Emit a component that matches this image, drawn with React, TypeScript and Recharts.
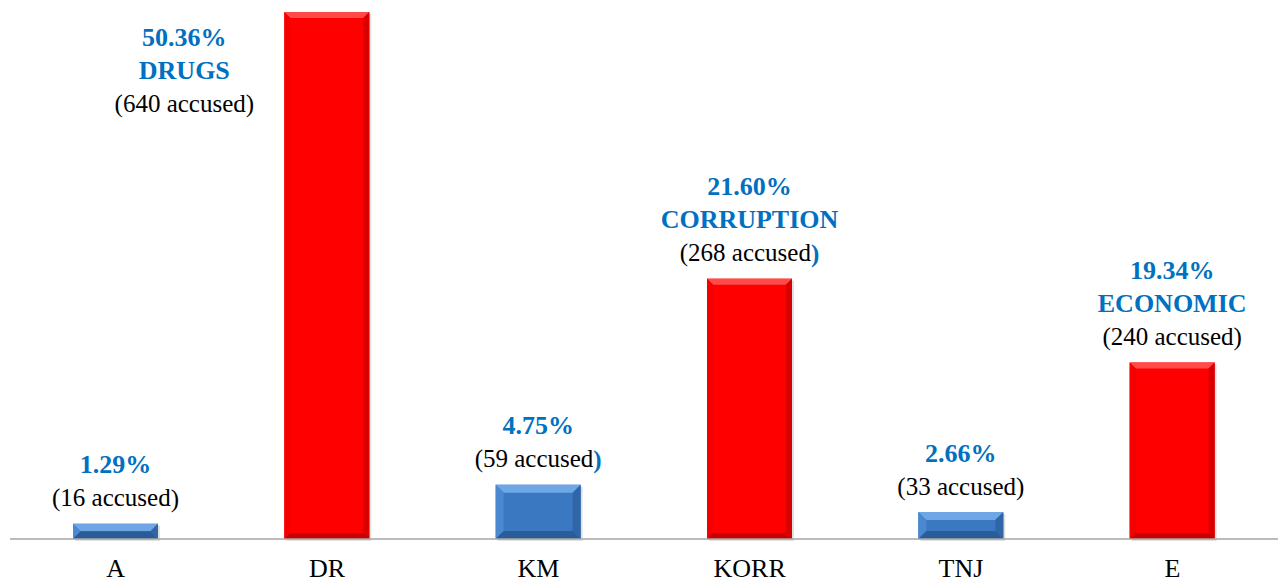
import React from 'react';
import { BarChart, Bar, XAxis, YAxis, LabelList } from 'recharts';

// categories on the x axis
const categories = ['A', 'DR', 'KM', 'KORR', 'TNJ', 'E'];
// bar heights as drawn in the source (DR = 100)
const barHeights = [2.9, 100, 10.3, 49.4, 5.1, 33.5];
// label values
const percents = [1.29, 50.36, 4.75, 21.6, 2.66, 19.34];
const accused = [16, 640, 59, 268, 33, 240];
const crimeNames = ['', 'DRUGS', '', 'CORRUPTION', '', 'ECONOMIC'];
// closing bracket printed in blue bold in the source
const blueBracket = [false, false, true, true, false, false];

const data = categories.map((c, i) => ({
  name: c,
  height: barHeights[i],
  percent: percents[i],
  accused: accused[i],
  crime: crimeNames[i],
  blueBracket: blueBracket[i],
}));

const FONT = '"Liberation Serif", "Times New Roman", serif';
const BLUE_TEXT = '#0070C0';

const BevelBar: React.FC<any> = ({ x, y, width, height, payload }) => {
  const major = !!payload.crime;
  const b = major ? 6 : 8;
  const base = major ? '#FF0000' : '#3B78C2';
  const top = major ? '#FF4A4A' : '#6FA6E6';
  const left = major ? '#F50000' : '#4C88D0';
  const right = major ? '#D80000' : '#2F66A8';
  const bottom = major ? '#C80000' : '#2A5C98';
  const bv = Math.min(b, height / 2, width / 2);
  const x2 = x + width;
  const y2 = y + height;
  return (
    <g>
      <rect x={x + 2} y={y + 2} width={width} height={height} fill="rgba(0,0,0,0.12)" />
      <rect x={x} y={y} width={width} height={height} fill={base} />
      <polygon points={`${x},${y} ${x2},${y} ${x2 - bv},${y + bv} ${x + bv},${y + bv}`} fill={top} />
      <polygon points={`${x},${y} ${x + bv},${y + bv} ${x + bv},${y2 - bv} ${x},${y2}`} fill={left} />
      <polygon points={`${x2},${y} ${x2},${y2} ${x2 - bv},${y2 - bv} ${x2 - bv},${y + bv}`} fill={right} />
      <polygon points={`${x},${y2} ${x + bv},${y2 - bv} ${x2 - bv},${y2 - bv} ${x2},${y2}`} fill={bottom} />
    </g>
  );
};

const BarLabel: React.FC<any> = ({ x, y, width, index }) => {
  const d = data[index];
  const lineH = 33;
  const lines: { text: string; blue: boolean }[] = [{ text: `${d.percent.toFixed(2)}%`, blue: true }];
  if (d.crime) lines.push({ text: d.crime, blue: true });
  lines.push({ text: `(${d.accused} accused`, blue: false });

  let cx = x + width / 2;
  let firstY = y - 26 - (lines.length - 1) * lineH;
  if (firstY < 20) {
    // no room above the bar: put the label to the left of it
    cx = x - 100;
    firstY = y + 25;
  }
  return (
    <g>
      {lines.map((ln, i) => (
        <text
          key={i}
          x={cx}
          y={firstY + i * lineH}
          textAnchor="middle"
          dominantBaseline="central"
          fontFamily={FONT}
          fontSize={ln.blue ? 26 : 25}
          fontWeight={ln.blue ? 700 : 400}
          fill={ln.blue ? BLUE_TEXT : '#000'}
        >
          {ln.text}
          {!ln.blue && (
            <tspan fill={d.blueBracket ? BLUE_TEXT : '#000'} fontWeight={d.blueBracket ? 700 : 400}>
              )
            </tspan>
          )}
        </text>
      ))}
    </g>
  );
};

export default function App() {
  return (
    <div style={{ position: 'absolute', left: 0, top: 0, width: 1278, height: 586, background: '#fff' }}>
      <BarChart width={1278} height={586} data={data} margin={{ top: 12, right: 0, left: 10, bottom: 0 }} barSize={85}>
        <XAxis
          dataKey="name"
          height={47}
          axisLine={{ stroke: '#A6A6A6', strokeWidth: 1.5 }}
          tickLine={false}
          tick={{ fill: '#000', fontSize: 26, fontFamily: FONT, dy: 12 }}
          interval={0}
        />
        <YAxis hide domain={[0, 100]} />
        <Bar dataKey="height" shape={<BevelBar />} isAnimationActive={false}>
          <LabelList dataKey="height" content={<BarLabel />} />
        </Bar>
      </BarChart>
    </div>
  );
}
